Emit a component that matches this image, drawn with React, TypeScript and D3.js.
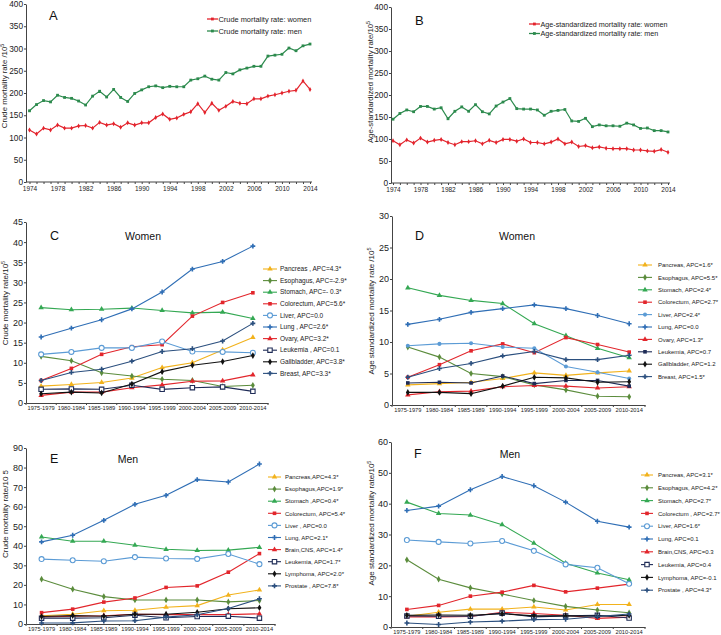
import React, { useEffect, useRef } from 'react'
import * as d3 from 'd3'

const FONT = '"Liberation Sans", Arial, sans-serif'

// ---- panel A / B : yearly rates 1974-2014
const years = [1974, 1975, 1976, 1977, 1978, 1979, 1980, 1981, 1982, 1983, 1984, 1985, 1986, 1987, 1988, 1989, 1990, 1991, 1992, 1993, 1994, 1995, 1996, 1997, 1998, 1999, 2000, 2001, 2002, 2003, 2004, 2005, 2006, 2007, 2008, 2009, 2010, 2011, 2012, 2013, 2014]
const yearLabels = [1974, 1978, 1982, 1986, 1990, 1994, 1998, 2002, 2006, 2010, 2014]

const crudeWomen = [117, 108, 121, 117, 128, 121, 121, 126, 127, 121, 134, 128, 131, 123, 133, 128, 133, 133, 145, 153, 141, 144, 152, 158, 176, 156, 177, 161, 170, 181, 177, 176, 187, 187, 193, 196, 200, 204, 206, 227, 208]
const crudeMen = [160, 174, 183, 180, 195, 190, 188, 182, 173, 193, 204, 191, 208, 190, 181, 199, 207, 214, 216, 212, 215, 214, 214, 229, 232, 238, 231, 229, 246, 243, 252, 256, 260, 260, 283, 285, 287, 301, 295, 306, 310]
const asrWomen = [96, 87, 98, 91, 102, 93, 97, 99, 92, 87, 94, 94, 96, 89, 97, 92, 99, 99, 95, 100, 92, 92, 89, 93, 100, 89, 93, 83, 85, 80, 82, 79, 78, 78, 78, 75, 75, 73, 72, 76, 70]
const asrMen = [145, 158, 166, 162, 174, 174, 168, 171, 146, 163, 173, 163, 178, 162, 157, 175, 184, 192, 169, 168, 168, 166, 154, 163, 165, 167, 141, 140, 147, 128, 132, 130, 130, 129, 136, 132, 124, 125, 119, 119, 116]

// ---- panels C-F : five-year periods
const periods = ['1975-1979', '1980-1984', '1985-1989', '1990-1994', '1995-1999', '2000-2004', '2005-2009', '2010-2014']

// C: crude, women
const cPancreas = [4.2, 4.6, 5.1, 6.2, 8.8, 10.0, 13.2, 16.3]
const cEsophagus = [11.6, 10.5, 7.5, 6.7, 5.9, 5.6, 4.1, 4.4]
const cStomach = [23.7, 23.2, 23.3, 23.6, 23.0, 22.4, 22.6, 21.0]
const cColorectum = [5.6, 8.6, 12.1, 14.0, 14.5, 21.6, 25.0, 27.4]
const cLiver = [12.1, 12.7, 13.7, 13.7, 15.3, 12.8, 12.7, 12.5]
const cLung = [16.4, 18.6, 20.7, 23.4, 27.6, 33.3, 35.2, 39.0]
const cOvary = [1.9, 2.7, 2.7, 3.8, 4.5, 5.4, 5.5, 7.0]
const cLeukemia = [3.4, 3.5, 3.4, 4.4, 3.4, 3.8, 4.0, 2.9]
const cGallbladder = [2.3, 2.7, 2.5, 4.7, 7.8, 9.4, 10.3, 11.8]
const cBreast = [5.6, 7.6, 8.4, 10.4, 12.8, 13.5, 15.4, 19.8]
const cLabels = ['Pancreas , APC=4.3*', 'Esophagus, APC=-2.9*', 'Stomach,  APC=- 0.3*', 'Colorectum, APC=5.6*', 'Liver, APC=0.0', 'Lung , APC=2.6*', 'Ovary, APC=3.2*', 'Leukemia , APC=0.1', 'Gallbladder, APC=3.8*', 'Breast, APC=3.3*']

// D: age-standardized, women
const dPancreas = [3.2, 3.4, 3.6, 4.2, 5.1, 4.7, 5.1, 5.4]
const dEsophagus = [9.2, 7.6, 5.0, 4.5, 3.2, 2.4, 1.4, 1.3]
const dStomach = [18.6, 17.4, 16.6, 16.1, 12.9, 11.0, 9.0, 7.5]
const dColorectum = [4.4, 6.4, 8.6, 9.7, 8.3, 10.7, 9.6, 8.4]
const dLiver = [9.4, 9.7, 9.8, 9.2, 9.0, 6.1, 5.2, 4.2]
const dLung = [12.8, 13.6, 14.7, 15.3, 15.9, 15.3, 14.2, 12.9]
const dOvary = [1.6, 2.1, 2.2, 2.9, 3.1, 3.0, 2.7, 2.9]
const dLeukemia = [3.5, 3.6, 3.5, 4.6, 3.4, 3.9, 3.9, 3.0]
const dGallbladder = [2.0, 2.0, 1.8, 3.0, 4.4, 4.3, 3.6, 3.7]
const dBreast = [4.4, 5.8, 6.6, 7.8, 8.5, 7.2, 7.2, 7.9]
const dLabels = ['Pancreas, APC=1.6*', 'Esophagus, APC=5.5*', 'Stomach,  APC=2.4*', 'Colorectum, APC=2.7*', 'Liver,  APC=2.4*', 'Lung,  APC=0.0', 'Ovary,  APC=1.3*', 'Leukemia, APC=0.7', 'Gallbladder, APC=1.2', 'Breast,  APC=1.5*']

// E: crude, men
const ePancreas = [4.2, 5.0, 6.8, 7.0, 8.6, 9.4, 14.8, 17.4]
const eEsophagus = [22.9, 17.8, 14.0, 12.3, 12.3, 12.3, 11.3, 12.0]
const eStomach = [44.5, 42.3, 42.3, 40.3, 38.2, 37.6, 37.8, 39.2]
const eColorectum = [5.8, 7.6, 11.2, 13.3, 18.7, 19.5, 26.5, 36.0]
const eLiver = [33.2, 32.6, 32.1, 34.2, 33.5, 33.3, 35.8, 30.6]
const eLung = [42.0, 45.4, 53.0, 61.2, 65.8, 73.8, 72.6, 81.8]
const eBrain = [3.6, 4.0, 4.2, 5.0, 4.8, 4.8, 4.8, 5.2]
const eLeukemia = [3.0, 3.0, 3.2, 4.5, 3.2, 3.8, 4.0, 3.0]
const eLymphoma = [3.8, 4.3, 4.0, 5.0, 5.0, 6.0, 7.8, 8.3]
const eProstate = [0.5, 0.6, 1.5, 1.7, 3.5, 4.7, 7.9, 12.9]
const eLabels = ['Pancreas,APC=4.3*', 'Esophagus,APC=1.9*', 'Stomach ,APC=0.4*', 'Colorectum, APC=5.4*', 'Liver , APC=0.0', 'Lung, APC=2.1*', 'Brain,CNS, APC=1.4*', 'Leukemia, APC=1.7*', 'Lymphoma, APC=2.0*', 'Prostate , APC=7.8*']

// F: age-standardized, men
const fPancreas = [3.5, 4.8, 5.8, 5.8, 6.5, 5.5, 7.3, 7.3]
const fEsophagus = [21.8, 15.5, 12.7, 10.7, 8.6, 6.7, 5.5, 4.6]
const fStomach = [40.5, 36.8, 36.3, 33.2, 27.2, 20.7, 17.5, 15.3]
const fColorectum = [5.7, 7.0, 10.0, 11.3, 13.5, 11.4, 12.6, 13.9]
const fLiver = [28.2, 27.6, 27.1, 27.9, 24.7, 20.3, 19.2, 14.0]
const fLung = [37.8, 39.2, 44.5, 48.8, 45.8, 40.5, 34.3, 32.4]
const fBrain = [3.3, 3.3, 3.4, 4.8, 4.4, 3.8, 2.8, 3.2]
const fLeukemia = [3.6, 3.5, 3.5, 4.5, 3.3, 3.6, 3.8, 2.9]
const fLymphoma = [3.8, 3.9, 3.8, 4.3, 3.6, 3.6, 3.5, 3.8]
const fProstate = [1.3, 0.8, 1.6, 1.9, 2.4, 2.5, 3.4, 4.2]
const fLabels = ['Pancreas, APC=3.1*', 'Esophagus, APC=4.2*', 'Stomach,  APC=2.7*', 'Colorectum  , APC=2.7*', 'Liver,   APC=1.6*', 'Lung,  APC=0.1', 'Brain,CNS,  APC=0.3', 'Leukemia,  APC=0.4', 'Lymphoma, APC=-0.1', 'Prostate , APC=4.3*']

// line + marker style per site
const STY = {
  pancreas: { color: '#f2b21c', sym: d3.symbolTriangle, open: false },
  esophagus: { color: '#5b8c3c', sym: d3.symbolDiamond, open: false },
  stomach: { color: '#34a853', sym: d3.symbolTriangle, open: false },
  colorectum: { color: '#e2262c', sym: d3.symbolSquare, open: false },
  liver: { color: '#5b9bd5', sym: d3.symbolCircle, open: true },
  liverFilled: { color: '#5b9bd5', sym: d3.symbolCircle, open: false },
  lung: { color: '#2f6eb5', sym: d3.symbolCross, open: false },
  red2: { color: '#e2262c', sym: d3.symbolTriangle, open: false },
  leukemia: { color: '#1f2c57', sym: d3.symbolSquare, open: true },
  leukemiaFilled: { color: '#1f2c57', sym: d3.symbolSquare, open: false },
  black: { color: '#111111', sym: d3.symbolDiamond, open: false },
  slate: { color: '#2b4f7e', sym: d3.symbolCross, open: false },
}

const cStyles = [STY.pancreas, STY.esophagus, STY.stomach, STY.colorectum, STY.liver, STY.lung, STY.red2, STY.leukemia, STY.black, STY.slate]
const dStyles = [STY.pancreas, STY.esophagus, STY.stomach, STY.colorectum, STY.liverFilled, STY.lung, STY.red2, STY.leukemiaFilled, STY.black, STY.slate]

const Marker = ({ x, y, s, size = 13 }) => (
  <path
    d={d3.symbol().type(s.sym).size(s.open ? size * 1.5 : size)()}
    transform={`translate(${x},${y})`}
    fill={s.open ? '#fff' : s.color}
    stroke={s.color}
    strokeWidth={s.open ? 1.1 : 0}
  />
)

// left axis through d3
const YAxis = ({ x, scale, step, fontSize }) => {
  const axis = useRef(null)
  useEffect(() => {
    const [lo, hi] = scale.domain()
    const g = d3.select(axis.current)
    g.call(d3.axisLeft(scale).tickValues(d3.range(lo, hi + 0.001, step)).tickSize(2).tickSizeOuter(0).tickPadding(1))
    g.selectAll('text').attr('font-size', fontSize).attr('font-family', FONT).attr('fill', '#222')
    g.selectAll('line').attr('stroke', '#444')
    g.select('.domain').attr('stroke', '#444')
  })
  return <g ref={axis} transform={`translate(${x},0)`} />
}

// bottom axis with yearly ticks
const YearAxis = ({ y, scale, x0, x1 }) => {
  const axis = useRef(null)
  useEffect(() => {
    const g = d3.select(axis.current)
    g.call(d3.axisBottom(scale).tickValues(years).tickSize(2).tickPadding(2.5)
      .tickFormat(d => (yearLabels.includes(d) ? String(d) : '')))
    g.select('.domain').remove()
    g.selectAll('text').attr('font-size', 6.5).attr('font-family', FONT).attr('fill', '#222')
    g.selectAll('line').attr('stroke', '#444')
  })
  return (
    <g>
      <line x1={x0} x2={x1} y1={y} y2={y} stroke='#444' />
      <g ref={axis} transform={`translate(0,${y})`} />
    </g>
  )
}

// bottom axis with period labels, ticks at band edges
const PeriodAxis = ({ y, scale }) => {
  const axis = useRef(null)
  useEffect(() => {
    const g = d3.select(axis.current)
    g.call(d3.axisBottom(scale).tickSize(0).tickPadding(3).tickSizeOuter(0))
    g.selectAll('text').attr('font-size', 5.7).attr('font-family', FONT).attr('fill', '#222')
    g.select('.domain').attr('stroke', '#444')
  })
  const edges = periods.map(p => scale(p)).concat([scale.range()[1]])
  return (
    <g>
      <g ref={axis} transform={`translate(0,${y})`} />
      {edges.map((e, i) => (
        <line key={i} x1={e} x2={e} y1={y} y2={y + 2} stroke='#444' />
      ))}
    </g>
  )
}

const YTitle = ({ x, y, text, sup, fontSize = 8 }) => (
  <text transform={`translate(${x},${y}) rotate(-90)`} textAnchor='middle' fontSize={fontSize} fontFamily={FONT} fill='#222'>
    {text}
    {sup && <tspan dy={-3} fontSize={fontSize * 0.7}>{sup}</tspan>}
  </text>
)

const TrendPanel = ({ cfg }) => {
  const x = d3.scaleLinear().domain([1974, 2014]).range(cfg.xRange)
  const y = d3.scaleLinear().domain([0, 400]).range([cfg.yBottom, cfg.yTop])
  const line = d3.line().x((d, i) => x(years[i])).y(d => y(d))
  const series = [
    { values: cfg.women, color: '#e3232c', label: cfg.labels[0], women: true },
    { values: cfg.men, color: '#2c8a4d', label: cfg.labels[1], women: false },
  ]
  return (
    <g>
      <YAxis x={cfg.axisX} scale={y} step={50} fontSize={8.3} />
      <YearAxis y={cfg.yBottom} scale={x} x0={cfg.axisX} x1={cfg.axisEnd} />
      <YTitle x={cfg.titleX} y={cfg.titleY} text={cfg.yTitle} sup='5' fontSize={7.8} />
      <text x={cfg.letter[1]} y={cfg.letter[2]} fontSize={13} fontFamily={FONT} fill='#111'>{cfg.letter[0]}</text>
      {series.map((s, k) => (
        <g key={k}>
          <path d={line(s.values)} fill='none' stroke={s.color} strokeWidth={1.2} />
          {s.values.map((v, i) => (
            s.women
              ? <path key={i} d={d3.symbol().type(d3.symbolDiamond).size(7)()} transform={`translate(${x(years[i])},${y(v)})`} fill={s.color} />
              : <rect key={i} x={x(years[i]) - 1.4} y={y(v) - 1.4} width={2.8} height={2.8} fill={s.color} />
          ))}
          <line x1={cfg.legendX} x2={cfg.legendX + 11} y1={cfg.legendY + k * cfg.legendDy} y2={cfg.legendY + k * cfg.legendDy} stroke={s.color} strokeWidth={1.3} />
          <rect x={cfg.legendX + 4} y={cfg.legendY + k * cfg.legendDy - 1.4} width={2.8} height={2.8} fill={s.color} />
          <text x={cfg.legendX + 11.5} y={cfg.legendY + k * cfg.legendDy + 2.6} fontSize={cfg.legendFont} fontFamily={FONT} fill='#222'>{s.label}</text>
        </g>
      ))}
    </g>
  )
}

const SitePanel = ({ cfg }) => {
  const x = d3.scaleBand().domain(periods).range([cfg.axisX, cfg.axisEnd]).padding(0)
  const y = d3.scaleLinear().domain([0, cfg.yMax]).range([cfg.yBottom, cfg.yTop])
  const cx = p => x(p) + x.bandwidth() / 2
  const line = d3.line().x((d, i) => cx(periods[i])).y(d => y(d))
  return (
    <g>
      <YAxis x={cfg.axisX} scale={y} step={cfg.yStep} fontSize={9} />
      <PeriodAxis y={cfg.yBottom} scale={x} />
      <YTitle x={cfg.titleX} y={cfg.titleY} text={cfg.yTitle} sup={cfg.sup} fontSize={8} />
      <text x={cfg.letter[1]} y={cfg.letter[2]} fontSize={12.5} fontFamily={FONT} fill='#111'>{cfg.letter[0]}</text>
      <text x={cfg.heading[1]} y={cfg.heading[2]} textAnchor='middle' fontSize={10.5} fontFamily={FONT} fill='#111'>{cfg.heading[0]}</text>
      {cfg.series.map((vals, k) => {
        const s = cfg.styles[k]
        const ly = cfg.legendY + k * cfg.legendDy
        return (
          <g key={k}>
            <path d={line(vals)} fill='none' stroke={s.color} strokeWidth={1.1} />
            {vals.map((v, i) => <Marker key={i} x={cx(periods[i])} y={y(v)} s={s} />)}
            <line x1={cfg.legendX} x2={cfg.legendX + cfg.legendW} y1={ly} y2={ly} stroke={s.color} strokeWidth={1.1} />
            <Marker x={cfg.legendX + cfg.legendW / 2} y={ly} s={s} />
            <text x={cfg.legendX + cfg.legendW + cfg.legendGap} y={ly + 2.2} fontSize={cfg.legendFont} fontFamily={FONT} fill='#222'>{cfg.labels[k]}</text>
          </g>
        )
      })}
    </g>
  )
}

const panelA = {
  women: crudeWomen, men: crudeMen, labels: ['Crude mortality rate: women', 'Crude mortality rate: men'],
  axisX: 26, axisEnd: 312, xRange: [29.5, 310], yTop: 4, yBottom: 182,
  yTitle: 'Crude mortality rate /10', titleX: 7, titleY: 86, letter: ['A', 49, 20],
  legendX: 207, legendY: 19, legendDy: 12, legendFont: 7.4,
}
const panelB = {
  women: asrWomen, men: asrMen, labels: ['Age-standardized mortality rate: women', 'Age-standardized mortality rate: men'],
  axisX: 391, axisEnd: 670, xRange: [393, 668], yTop: 7, yBottom: 183,
  yTitle: 'Age-standardized mortality rate/10', titleX: 373, titleY: 82, letter: ['B', 415, 25],
  legendX: 529, legendY: 24, legendDy: 9.5, legendFont: 7.2,
}
const panelC = {
  series: [cPancreas, cEsophagus, cStomach, cColorectum, cLiver, cLung, cOvary, cLeukemia, cGallbladder, cBreast],
  styles: cStyles, labels: cLabels, axisX: 26, axisEnd: 268, yTop: 222, yBottom: 403, yMax: 45, yStep: 5,
  yTitle: 'Crude mortality rate/10', sup: '5', titleX: 8, titleY: 303, letter: ['C', 50, 240], heading: ['Women', 143, 240],
  legendX: 263, legendW: 14, legendGap: 3, legendY: 269, legendDy: 11.6, legendFont: 6.5,
}
const panelD = {
  series: [dPancreas, dEsophagus, dStomach, dColorectum, dLiver, dLung, dOvary, dLeukemia, dGallbladder, dBreast],
  styles: dStyles, labels: dLabels, axisX: 392, axisEnd: 645, yTop: 216, yBottom: 405, yMax: 30, yStep: 5,
  yTitle: 'Age standardized  mortality rate /10', sup: '5', titleX: 374, titleY: 311, letter: ['D', 415, 240], heading: ['Women', 517, 240],
  legendX: 638, legendW: 14, legendGap: 6, legendY: 265, legendDy: 12.4, legendFont: 6,
}
const panelE = {
  series: [ePancreas, eEsophagus, eStomach, eColorectum, eLiver, eLung, eBrain, eLeukemia, eLymphoma, eProstate],
  styles: cStyles, labels: eLabels, axisX: 26, axisEnd: 275, yTop: 448, yBottom: 624, yMax: 90, yStep: 10,
  yTitle: 'Crude mortality rate/10 5', sup: null, titleX: 8, titleY: 514, letter: ['E', 50, 463], heading: ['Men', 128, 463],
  legendX: 268, legendW: 13, legendGap: 4, legendY: 477, legendDy: 12.1, legendFont: 6,
}
const panelF = {
  series: [fPancreas, fEsophagus, fStomach, fColorectum, fLiver, fLung, fBrain, fLeukemia, fLymphoma, fProstate],
  styles: cStyles, labels: fLabels, axisX: 391, axisEnd: 645, yTop: 442, yBottom: 627, yMax: 60, yStep: 10,
  yTitle: 'Age standardized mortality rate/10', sup: '5', titleX: 374, titleY: 523, letter: ['F', 414, 458], heading: ['Men', 510, 458],
  legendX: 641, legendW: 12, legendGap: 5, legendY: 475, legendDy: 12.8, legendFont: 6,
}

const App = () => (
  <svg width={721} height={635} style={{ position: 'absolute', left: 0, top: 0, background: '#fff' }}>
    <rect width={721} height={635} fill='#fff' />
    <TrendPanel cfg={panelA} />
    <TrendPanel cfg={panelB} />
    <SitePanel cfg={panelC} />
    <SitePanel cfg={panelD} />
    <SitePanel cfg={panelE} />
    <SitePanel cfg={panelF} />
  </svg>
)

export default App
